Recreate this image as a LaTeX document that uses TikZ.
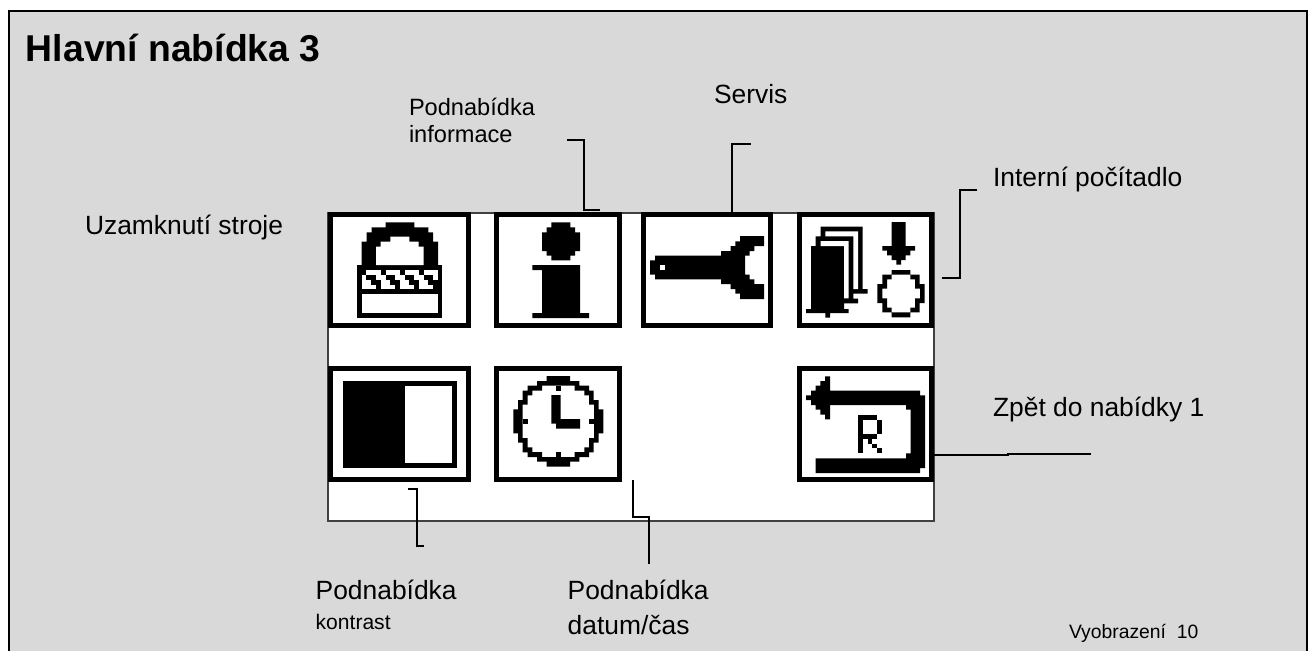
\documentclass[tikz,border=0pt]{standalone}
\usepackage{fontspec}
\setmainfont{Liberation Sans}
\tikzset{
  lbl/.style={anchor=base west,inner sep=0pt,outer sep=0pt,text=black,font=\fontsize{19.8}{22}\selectfont},
  lblmid/.style={lbl,font=\fontsize{17.7}{20}\selectfont},
  lblsmall/.style={lbl,font=\fontsize{15.8}{18}\selectfont},
  lbltiny/.style={lbl,font=\fontsize{14.5}{17}\selectfont},
  iconbox/.style={draw=black,fill=white,line width=3.5pt,inner sep=0pt,outer sep=0pt,minimum height=83.5pt},
  leader/.style={draw=black,line width=1.5pt,line cap=butt,line join=miter},
  zoomed/.style={x=0.25pt,y=-0.25pt},
  ink/.style={fill=black,draw=none},
  blank/.style={fill=white,draw=none}
}
\begin{document}
\begin{tikzpicture}[x=0.75pt,y=-0.75pt]
\useasboundingbox (0,0) rectangle (1308,651);
\fill[white] (0,0) rectangle (1308,651);
\fill[fill=black!15] (9,11) rectangle (1308,651);
\draw[black,line width=1.5pt] (9,651) -- (9,11) -- (1307,11) -- (1307,651);
% screen
\node[draw=black!75,fill=white,line width=1.5pt,inner sep=0pt,outer sep=0pt,minimum width=454pt,minimum height=231pt] (screen) at (631,366.5) {};
% icon frames
\node[iconbox,minimum width=103.7pt] (lock) at (399.5,270) {};
\node[iconbox,minimum width=92.5pt] (info) at (558,270) {};
\node[iconbox,minimum width=95.5pt] (wrench) at (707,270) {};
\node[iconbox,minimum width=99pt] (pile) at (865.6,270) {};
\node[iconbox,minimum width=103.7pt] (contrast) at (399.5,424) {};
\node[iconbox,minimum width=92.5pt] (clock) at (558,424) {};
\node[iconbox,minimum width=99pt] (back) at (865.6,424) {};
% lock + info
\begin{scope}[shift={(320,200)},zoomed]
\fill[ink] (111,195) rectangle (367,354);
\fill[ink] (125,195)--(125,125)--(140,125)--(140,97)--(155,97)--(155,82)--(197,82)--(197,67)--(283,67)--(283,82)--(325,82)--(325,97)--(339,97)--(339,125)--(354,125)--(354,195)--cycle;
\fill[blank] (168,195)--(168,140)--(182,140)--(182,125)--(211,125)--(211,110)--(268,110)--(268,125)--(296,125)--(296,140)--(311,140)--(311,195)--cycle;
\fill[blank] (125,282) rectangle (354,340);
\fill[blank] (125,210) rectangle (354,268);
\foreach \r/\w in {0/1,1/2,2/2,3/1}{\foreach \c in {0,...,15}{
  \pgfmathtruncatemacro{\m}{mod(\c+4-\r,4)}
  \ifnum\m<\w
    \fill[ink] ({125+\c*14.3},{210+\r*14.5}) rectangle ({125+(\c+1)*14.3},{210+(\r+1)*14.5});
  \fi
}}
\fill[ink] (694,67)--(751,67)--(751,82)--(765,82)--(765,97)--(780,97)--(780,153)--(765,153)--(765,167)--(751,167)--(751,181)--(694,181)--(694,167)--(680,167)--(680,153)--(666,153)--(666,97)--(680,97)--(680,82)--(694,82)--cycle;
\fill[ink] (637,195)--(780,195)--(780,339)--(807,339)--(807,354)--(637,354)--(637,339)--(666,339)--(666,210)--(637,210)--cycle;
\end{scope}
% wrench
\begin{scope}[shift={(630,200)},zoomed]
\fill[ink] (75,167)--(273,167)--(273,153)--(302,153)--(302,138)--(316,138)--(316,124)--(330,124)--(330,108)--(402,108)--(402,138)--(373,138)--(373,153)--(359,153)--(359,167)--(345,167)--(345,224)--(359,224)--(359,238)--(373,238)--(373,252)--(402,252)--(402,297)--(330,297)--(330,281)--(316,281)--(316,267)--(302,267)--(302,252)--(273,252)--(273,238)--(75,238)--(75,224)--(60,224)--(60,181)--(75,181)--cycle;
\fill[blank] (90,195) rectangle (104,210);
\end{scope}
% pile and arrow
\begin{scope}[shift={(800,215)},zoomed]
\fill[ink] (33,93)--(47,93)--(47,64)--(62,64)--(62,35)--(188,35)--(188,222)--(203,222)--(203,236)--(160,236)--(160,251)--(174,251)--(174,265)--(132,265)--(132,282)--(146,282)--(146,294)--(90,294)--(90,308)--(76,308)--(76,294)--(18,294)--(18,282)--(33,282)--cycle;
\fill[blank] (76,49)--(174,49)--(174,222)--(160,222)--(160,64)--(76,64)--cycle;
\fill[blank] (62,78)--(146,78)--(146,250)--(132,250)--(132,93)--(62,93)--cycle;
\fill[ink] (275,21)--(317,21)--(317,93)--(345,93)--(345,107)--(331,107)--(331,121)--(317,121)--(317,135)--(303,135)--(303,149)--(289,149)--(289,135)--(275,135)--(275,121)--(261,121)--(261,107)--(247,107)--(247,93)--(275,93)--cycle;
\fill[ink,even odd rule] (275,165)--(331,165)--(331,179)--(359,179)--(359,207)--(374,207)--(374,264)--(359,264)--(359,292)--(331,292)--(331,307)--(275,307)--(275,292)--(247,292)--(247,264)--(232,264)--(232,207)--(247,207)--(247,179)--(275,179)--cycle
 (275,179)--(331,179)--(331,193)--(345,193)--(345,221)--(360,221)--(360,250)--(345,250)--(345,278)--(331,278)--(331,292)--(275,292)--(275,278)--(261,278)--(261,250)--(247,250)--(247,221)--(261,221)--(261,193)--(275,193)--cycle;
\end{scope}
% contrast and clock
\begin{scope}[shift={(320,355)},zoomed]
\fill[ink] (69,78) rectangle (411,339);
\fill[blank] (255,92) rectangle (397,325);
\fill[ink,even odd rule] (680,63)--(750,63)--(750,78)--(778,78)--(778,92)--(807,92)--(807,107)--(821,107)--(821,135)--(836,135)--(836,163)--(850,163)--(850,235)--(836,235)--(836,263)--(821,263)--(821,292)--(807,292)--(807,306)--(778,306)--(778,320)--(750,320)--(750,335)--(680,335)--(680,320)--(651,320)--(651,306)--(623,306)--(623,292)--(608,292)--(608,263)--(594,263)--(594,235)--(580,235)--(580,163)--(594,163)--(594,135)--(608,135)--(608,107)--(623,107)--(623,92)--(651,92)--(651,78)--(680,78)--cycle
 (666,92)--(764,92)--(764,107)--(793,107)--(793,121)--(807,121)--(807,149)--(822,149)--(822,249)--(807,249)--(807,277)--(793,277)--(793,291)--(764,291)--(764,306)--(666,306)--(666,291)--(637,291)--(637,277)--(623,277)--(623,249)--(608,249)--(608,149)--(623,149)--(623,121)--(637,121)--(637,107)--(666,107)--cycle;
\fill[ink] (708,92) rectangle (722,107);
\fill[ink] (708,291) rectangle (722,306);
\fill[ink] (608,192) rectangle (623,206);
\fill[ink] (807,192) rectangle (822,206);
\fill[ink] (694,120)--(722,120)--(722,192)--(780,192)--(780,221)--(708,221)--(708,206)--(694,206)--cycle;
\end{scope}
% back arrow
\begin{scope}[shift={(780,355)},zoomed]
\fill[ink] (135,64)--(150,64)--(150,107)--(420,107)--(420,121)--(435,121)--(435,339)--(420,339)--(420,354)--(107,354)--(107,310)--(378,310)--(378,295)--(392,295)--(392,164)--(378,164)--(378,150)--(150,150)--(150,193)--(135,193)--(135,179)--(121,179)--(121,164)--(107,164)--(107,150)--(93,150)--(93,135)--(78,135)--(78,121)--(93,121)--(93,107)--(107,107)--(107,92)--(121,92)--(121,78)--(135,78)--cycle;
\fill[ink] (235,181) rectangle (249,295);
\fill[ink] (235,181) rectangle (292,195);
\fill[ink] (292,195) rectangle (306,238);
\fill[ink] (235,238) rectangle (292,252);
\fill[ink] (263,252) rectangle (277,266);
\fill[ink] (277,266) rectangle (292,280);
\fill[ink] (292,280) rectangle (306,295);
\end{scope}
% leader end points
\coordinate (infoA) at (567,140.3);
\coordinate (infoB) at (600,209.5);
\coordinate (servA) at (750.7,144);
\coordinate (servB) at (732,212);
\coordinate (ctrA) at (977.3,190.3);
\coordinate (ctrB) at (942.3,278.3);
\coordinate (backA) at (934,454.7);
\coordinate (backB) at (1008,454.7);
\coordinate (backC) at (1008,454.2);
\coordinate (backD) at (1090.7,454.2);
\coordinate (konA) at (408.3,489);
\coordinate (konB) at (424,546);
\coordinate (datA) at (632.7,480);
\coordinate (datB) at (649.3,564.3);
\draw[leader] (infoA) -- (584,140.3) -- (584,209.5) -- (infoB);
\draw[leader] (servA) -- (732,144) -- (servB);
\draw[leader] (ctrA) -- (960,190.3) -- (960,278.3) -- (ctrB);
\draw[leader] (backA) -- (backB) -- (backC) -- (backD);
\draw[leader] (konA) -- (416.7,489) -- (416.7,546) -- (konB);
\draw[leader] (datA) -- (632.7,516.7) -- (649.3,516.7) -- (datB);
% labels
\node[lbl,font=\bfseries\fontsize{28}{32}\selectfont] (title) at (26,61.7) {Hlavní nabídka 3};
\node[lblmid] (t1) at (409,115) {Podnabídka};
\node[lblmid] (t2) at (409,142) {informace};
\node[lbl] (t3) at (714,103) {Servis};
\node[lbl] (t4) at (993,186) {Interní počítadlo};
\node[lbl] (t5) at (85,234) {Uzamknutí stroje};
\node[lbl] (t6) at (993,416.7) {Zpět do nabídky 1};
\node[lbl] (t7) at (315.7,599.3) {Podnabídka};
\node[lblsmall] (t8) at (315.7,629) {kontrast};
\node[lbl] (t9) at (567.7,599.3) {Podnabídka};
\node[lbl] (t10) at (567.7,634) {datum/čas};
\node[lbltiny] (t11) at (1069,638) {Vyobrazení\ \ 10};
\end{tikzpicture}
\end{document}
